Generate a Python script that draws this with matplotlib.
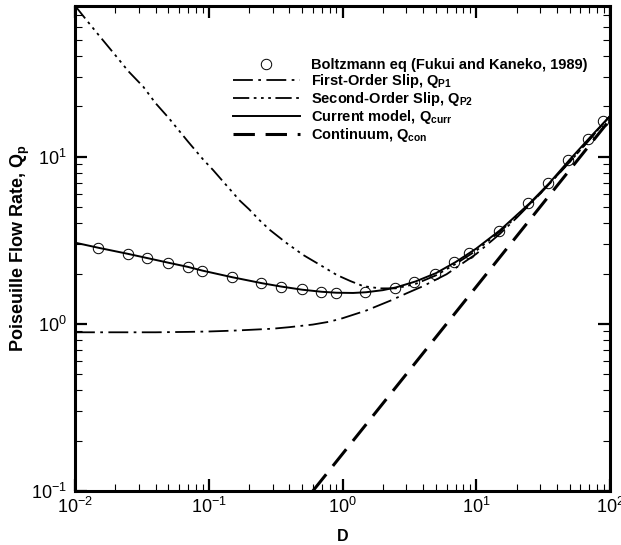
import matplotlib
matplotlib.use('Agg')
import matplotlib.pyplot as plt
from matplotlib.ticker import LogLocator, NullFormatter

plt.rcParams['font.family'] = ['Liberation Sans', 'DejaVu Sans']
plt.rcParams['mathtext.fontset'] = 'custom'
plt.rcParams['mathtext.rm'] = 'Liberation Sans'
plt.rcParams['mathtext.bf'] = 'Liberation Sans:bold'
plt.rcParams['mathtext.it'] = 'Liberation Sans:italic'
plt.rcParams['axes.unicode_minus'] = False

# ---- data ----
boltz_D = [0.0149, 0.0251, 0.0348, 0.0493, 0.0697, 0.0895, 0.149, 0.245, 0.347,
           0.495, 0.694, 0.889, 1.48, 2.47, 3.45, 4.92, 6.86, 8.83, 14.7, 24.5,
           34.4, 48.8, 68.1, 88.7]
boltz_Q = [2.85, 2.60, 2.46, 2.31, 2.18, 2.07, 1.90, 1.75, 1.67,
           1.61, 1.56, 1.53, 1.54, 1.64, 1.79, 2.00, 2.33, 2.64, 3.61, 5.26,
           6.93, 9.54, 12.8, 16.3]

curr_D = [0.01, 0.015, 0.025, 0.035, 0.05, 0.07, 0.09, 0.15, 0.25, 0.35, 0.5,
          0.7, 0.9, 1.2, 1.5, 2.0, 2.5, 3.5, 5.0, 7.0, 10, 15, 25, 35, 50, 70, 100]
curr_Q = [3.06, 2.85, 2.62, 2.47, 2.32, 2.19, 2.08, 1.90, 1.75, 1.67, 1.60,
          1.555, 1.535, 1.53, 1.545, 1.59, 1.65, 1.79, 2.01, 2.34, 2.82, 3.62, 5.25,
          6.92, 9.6, 12.9, 17.5]

p1_D = [0.01, 0.02, 0.04, 0.07, 0.1, 0.15, 0.2, 0.3, 0.4, 0.6, 0.8, 1.0, 1.5,
        2.3, 3.0, 4.0, 6.0, 10, 15, 20, 30, 50, 70, 100]
p1_Q = [0.89, 0.89, 0.89, 0.895, 0.90, 0.91, 0.92, 0.935, 0.955, 0.99, 1.03,
        1.08, 1.20, 1.38, 1.52, 1.68, 1.98, 2.62, 3.45, 4.30, 5.98, 9.30, 12.6, 17.5]

p2_D = [0.01, 0.0125, 0.015, 0.02, 0.025, 0.0324, 0.04, 0.05, 0.06, 0.07, 0.091,
        0.108, 0.13, 0.171, 0.2, 0.241, 0.287, 0.38, 0.509, 0.7, 0.906, 1.15,
        1.43, 1.91, 2.5, 3.5, 5.0, 7.0, 10, 15, 20, 30, 50, 70, 100]
p2_Q = [80.0, 64.0, 53.5, 40.5, 32.5, 26.2, 20.9, 17.1, 14.3, 12.3, 9.6,
        8.3, 7.0, 5.45, 4.85, 4.15, 3.64, 3.05, 2.58, 2.22, 1.96, 1.80,
        1.68, 1.63, 1.63, 1.73, 1.95, 2.28, 2.74, 3.56, 4.36, 6.0, 9.3, 12.6, 17.6]

con_D = [0.6, 1.0, 10.0, 100.0]
con_Q = [0.1, 0.1667, 1.667, 16.67]

fig = plt.figure(figsize=(6.21, 5.45), dpi=100)
W, H = 621.0, 545.0
ax = fig.add_axes([75 / W, 1 - 491 / H, (610 - 75) / W, (491 - 5.7) / H])

ax.plot(boltz_D, boltz_Q, linestyle='none', marker='o', markersize=7.5,
        markerfacecolor='none', markeredgecolor='black', markeredgewidth=0.7,
        label='Boltzmann eq (Fukui and Kaneko, 1989)', zorder=5)
ax.plot(p1_D, p1_Q, color='black', lw=1.3, linestyle=(0, (11, 3, 1.5, 3)),
        label=r'First-Order Slip, Q$_{\mathbf{P1}}$')
ax.plot(p2_D, p2_Q, color='black', lw=1.3,
        linestyle=(0, (9, 2.5, 1.5, 2.5, 1.5, 2.5, 1.5, 2.5)),
        label=r'Second-Order Slip, Q$_{\mathbf{P2}}$')
ax.plot(curr_D, curr_Q, color='black', lw=1.4, linestyle='-',
        label=r'Current model, Q$_{\mathbf{curr}}$')
ax.plot(con_D, con_Q, color='black', lw=2.2, linestyle=(0, (7, 3.5)),
        label=r'Continuum, Q$_{\mathbf{con}}$')

ax.set_xscale('log')
ax.set_yscale('log')
ax.set_xlim(0.01, 100)
ax.set_ylim(0.1, 80)

ax.xaxis.set_major_locator(LogLocator(base=10, numticks=10))
ax.yaxis.set_major_locator(LogLocator(base=10, numticks=10))
ax.xaxis.set_minor_locator(LogLocator(base=10, subs=range(2, 10), numticks=20))
ax.yaxis.set_minor_locator(LogLocator(base=10, subs=range(2, 10), numticks=20))
ax.xaxis.set_minor_formatter(NullFormatter())
ax.yaxis.set_minor_formatter(NullFormatter())

ax.tick_params(which='major', direction='in', length=8.5, width=1.6,
               top=True, right=True, labelsize=13)
ax.tick_params(axis='x', which='major', pad=4.5)
ax.tick_params(axis='y', which='major', pad=6)
ax.tick_params(which='minor', direction='in', length=5, width=0.8,
               top=True, right=True)
for s in ax.spines.values():
    s.set_linewidth(2.2)

ax.set_xlabel('D', fontsize=11.5, fontweight='bold')
ax.xaxis.set_label_coords(0.5, -0.078)
ax.set_ylabel(r'Poiseuille Flow Rate, Q$_{\mathbf{p}}$', fontsize=13,
              fontweight='bold')
ax.yaxis.set_label_coords(-0.081, 0.5)

leg = ax.legend(loc='upper left', bbox_to_anchor=(0.295, 0.893), frameon=False,
                borderaxespad=0, borderpad=0, handlelength=4.6, handletextpad=0.75,
                labelspacing=0.0, prop={'weight': 'bold', 'size': 10.5})

fig.savefig('out.png', dpi=100)
